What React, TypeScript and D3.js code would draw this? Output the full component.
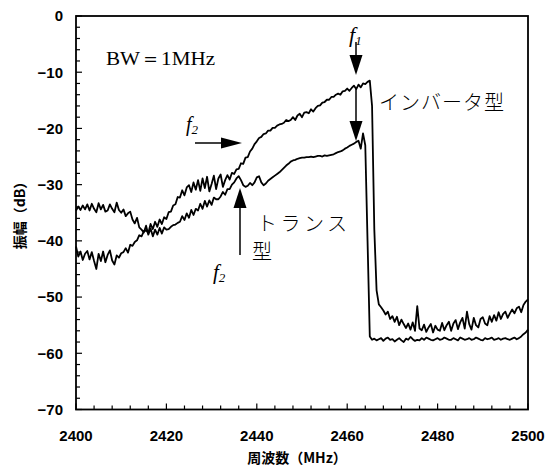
import React from "react";
import * as d3 from "d3";

// Sample grid: spectrum analyser sweep, 2400–2500 MHz, one sample every 0.5 MHz
const FREQ_START = 2400;
const FREQ_STEP = 0.5;

// インバータ型 trace (dB)
const inverterDb = [
  -41.0, -42.8, -41.9, -43.4, -42.3, -41.8, -43.3, -42.0, -43.6, -45.0,
  -42.3, -43.6, -41.9, -43.8, -42.5, -41.7, -43.5, -44.2, -42.6, -43.0,
  -42.2, -42.0, -41.3, -42.1, -40.7, -40.9, -40.2, -39.9, -39.0, -39.2,
  -38.3, -38.1, -38.6, -37.0, -37.9, -36.6, -37.5, -36.2, -37.0, -35.8,
  -36.1, -34.9, -34.8, -33.7, -33.5, -32.2, -32.3, -31.0, -31.9, -30.5,
  -30.1, -31.3, -29.6, -30.9, -29.2, -31.1, -28.9, -30.6, -28.6, -31.2,
  -29.9, -28.4, -30.8, -28.9, -28.2, -30.4, -29.2, -28.3, -29.1, -27.9,
  -28.1, -27.3, -27.2, -26.2, -26.3, -25.2, -25.1, -24.1, -23.6, -22.8,
  -22.3, -21.7, -21.5, -21.0, -20.9, -20.4, -20.4, -19.9, -19.9, -19.5,
  -19.3, -19.2, -19.0, -18.5, -18.7, -18.5, -18.0, -18.5, -17.7, -17.4,
  -18.0, -17.2, -17.1, -17.3, -16.6, -17.0, -16.4, -16.0, -15.9, -15.4,
  -15.3, -14.9, -14.9, -14.4, -14.4, -14.0, -13.8, -14.0, -13.4, -13.3,
  -12.9, -13.3, -12.8, -12.4, -13.0, -12.2, -12.7, -12.0, -12.1, -11.7,
  -11.5, -16.0, -38.0, -48.8, -51.3, -51.8, -52.4, -53.1, -52.6, -53.9,
  -53.4, -54.4, -53.5, -55.0, -54.0, -54.8, -55.5, -54.7, -55.8, -54.5,
  -56.0, -51.6, -55.6, -55.9, -54.9, -56.2, -55.4, -54.8, -56.3, -55.1,
  -55.8, -56.0, -54.6, -55.9, -55.0, -54.4, -56.0, -54.7, -54.1, -55.7,
  -54.5, -53.7, -55.6, -52.6, -54.8, -55.8, -53.7, -55.0, -55.4, -53.9,
  -53.6, -54.7, -55.0, -53.4, -54.4, -53.2, -54.2, -52.7, -53.9, -53.0,
  -52.6, -53.7, -52.9, -52.2, -52.9, -52.0, -51.7, -52.7, -51.4, -50.8,
  -50.4,
];

// トランス型 trace (dB)
const transDb = [
  -34.6, -33.9, -34.5, -33.7, -34.4, -33.5, -34.6, -33.4, -34.3, -34.9,
  -33.3, -34.4, -33.6, -34.8, -34.6, -33.5, -34.3, -34.9, -33.2, -34.5,
  -35.0, -34.4, -35.6, -35.1, -34.8, -36.2, -36.9, -35.9, -37.6, -38.0,
  -38.5, -37.3, -38.9, -37.8, -39.2, -38.0, -38.9, -37.7, -38.7, -37.6,
  -38.0, -37.9, -37.5, -37.2, -37.1, -36.8, -36.6, -35.6, -36.3, -35.1,
  -35.9, -34.5, -35.4, -34.3, -34.6, -33.4, -34.3, -32.9, -33.9, -32.8,
  -33.6, -32.3, -32.6, -32.6, -32.1, -31.3, -31.8, -30.8, -30.8, -30.0,
  -29.6, -28.9, -28.5, -29.2, -30.1, -30.4, -30.2, -29.7, -30.1, -29.6,
  -28.7, -28.5, -29.6, -30.1, -29.8, -29.3, -29.0, -28.7, -28.4, -28.1,
  -27.8, -27.4, -27.0, -26.6, -26.3, -25.9, -25.7, -25.6, -25.4, -25.3,
  -25.2, -25.2, -25.1, -25.1, -25.0, -25.1, -25.0, -24.9, -24.9, -25.0,
  -24.8, -24.9, -24.8, -24.7, -24.6, -24.4, -24.2, -24.1, -23.9, -23.6,
  -23.4, -23.1, -22.9, -22.7, -22.4, -22.2, -23.6, -20.9, -23.0, -40.0,
  -57.0, -57.6, -57.4, -57.7, -57.5, -57.3, -57.8, -57.4, -57.2, -57.6,
  -57.5, -57.9, -57.6, -57.3, -57.7, -58.0, -57.4, -57.6, -57.1, -57.5,
  -57.8, -57.6, -57.7, -57.3, -57.6, -57.2, -57.4, -57.6, -57.7, -57.5,
  -57.3, -57.6, -57.5, -57.2, -57.4, -57.6, -57.6, -57.3, -57.5, -57.7,
  -57.2, -57.4, -57.6, -57.5, -57.3, -57.6, -57.5, -57.2, -57.4, -57.6,
  -57.7, -57.3, -57.5, -57.4, -57.2, -57.6, -57.5, -57.3, -57.6, -57.4,
  -57.3, -57.5, -57.6, -57.4, -57.2, -57.5, -57.3, -57.0, -56.6, -56.3,
  -55.8,
];

const xTickValues = [2400, 2420, 2440, 2460, 2480, 2500];
const yTickValues = [0, -10, -20, -30, -40, -50, -60, -70];
const xLabel = "周波数（MHz）";
const yLabel = "振幅（dB）";

const W = 546;
const H = 467;
const L = 76, R = 528, T = 16, B = 409.5;

export default function App() {
  const x = d3.scaleLinear().domain([2400, 2500]).range([L, R]);
  const y = d3.scaleLinear().domain([0, -70]).range([T, B]);
  const toPts = (arr: number[]) => arr.map((v, i) => [FREQ_START + FREQ_STEP * i, v] as [number, number]);
  const line = d3.line<[number, number]>().x(d => x(d[0])).y(d => y(d[1]));
  const fmt = d3.format("d");
  const xMinor = d3.range(2400, 2500.01, 4);
  const yMinor = d3.range(0, -70.01, -2);
  const jp = "'Noto Sans CJK JP', sans-serif";
  const serif = "'Liberation Serif', 'DejaVu Serif', serif";
  const sans = "'Liberation Sans', Arial, sans-serif";

  return (
    <svg width={W} height={H} style={{ position: "absolute", left: 0, top: 0, background: "#fff" }}>
      <rect x={0} y={0} width={W} height={H} fill="#fff" />
      {/* traces */}
      <path d={line(toPts(transDb)) || ""} fill="none" stroke="#000" strokeWidth={1.8} strokeLinejoin="round" />
      <path d={line(toPts(inverterDb)) || ""} fill="none" stroke="#000" strokeWidth={1.8} strokeLinejoin="round" />

      {/* frame */}
      <rect x={L} y={T} width={R - L} height={B - T} fill="none" stroke="#000" strokeWidth={1.8} />

      {/* y ticks */}
      {yMinor.map(v => (
        <line key={"ym" + v} x1={L} x2={L + (v % 10 === 0 ? 6 : 4)} y1={y(v)} y2={y(v)} stroke="#000" strokeWidth={1.2} />
      ))}
      {yTickValues.map(v => (
        <text key={"yl" + v} x={L - 13} y={y(v)} dy="0.36em" textAnchor="end" fontFamily={sans} fontWeight="bold" fontSize={15}>
          {fmt(v)}
        </text>
      ))}
      {/* x ticks */}
      {xMinor.map(v => (
        <line key={"xm" + v} x1={x(v)} x2={x(v)} y1={B} y2={B - ((v - 2400) % 20 === 0 ? 6 : 4)} stroke="#000" strokeWidth={1.2} />
      ))}
      {xTickValues.map(v => (
        <text key={"xl" + v} x={x(v)} y={441} textAnchor="middle" fontFamily={sans} fontWeight="bold" fontSize={15}>
          {fmt(v)}
        </text>
      ))}

      {/* axis titles */}
      <text x={297} y={463} textAnchor="middle" fontFamily={jp} fontWeight="bold" fontSize={14}>{xLabel}</text>
      <text transform="translate(25,212) rotate(-90)" textAnchor="middle" fontFamily={jp} fontWeight="bold" fontSize={14}>{yLabel}</text>

      {/* BW label */}
      <text x={106} y={65} fontFamily={serif} fontSize={19} textLength={109} lengthAdjust="spacingAndGlyphs">BW＝1MHz</text>

      {/* f1 label and arrows */}
      <text x={349} y={42} fontFamily={serif} fontStyle="italic" fontSize={22}>f
        <tspan fontSize={13} dy={3}>1</tspan>
      </text>
      <line x1={356} x2={356} y1={42} y2={58} stroke="#000" strokeWidth={1.5} />
      <polygon points="349.5,55 362.5,55 356,75" fill="#000" />
      <line x1={356} x2={356} y1={88} y2={124} stroke="#000" strokeWidth={1.5} />
      <polygon points="349.5,121 362.5,121 356,141" fill="#000" />

      {/* upper f2 */}
      <text x={186} y={131} fontFamily={serif} fontStyle="italic" fontSize={20}>f
        <tspan fontSize={13} dy={3}>2</tspan>
      </text>
      <line x1={195} x2={224} y1={143} y2={143} stroke="#000" strokeWidth={1.5} />
      <polygon points="221,137.5 221,148.5 242,143" fill="#000" />

      {/* lower f2 */}
      <line x1={240} x2={240} y1={205} y2={255} stroke="#000" strokeWidth={1.5} />
      <polygon points="233.5,208 246.5,208 240,188" fill="#000" />
      <text x={213} y={279} fontFamily={serif} fontStyle="italic" fontSize={21}>f
        <tspan fontSize={13} dy={3}>2</tspan>
      </text>

      {/* series labels */}
      <text x={257} y={231} fontFamily={jp} fontSize={20} fontWeight={300} letterSpacing={3.5}>トランス</text>
      <text x={252} y={259} fontFamily={jp} fontSize={20} fontWeight={300}>型</text>
      <text x={379} y={110} fontFamily={jp} fontSize={20} fontWeight={300} letterSpacing={1}>インバータ型</text>
    </svg>
  );
}
